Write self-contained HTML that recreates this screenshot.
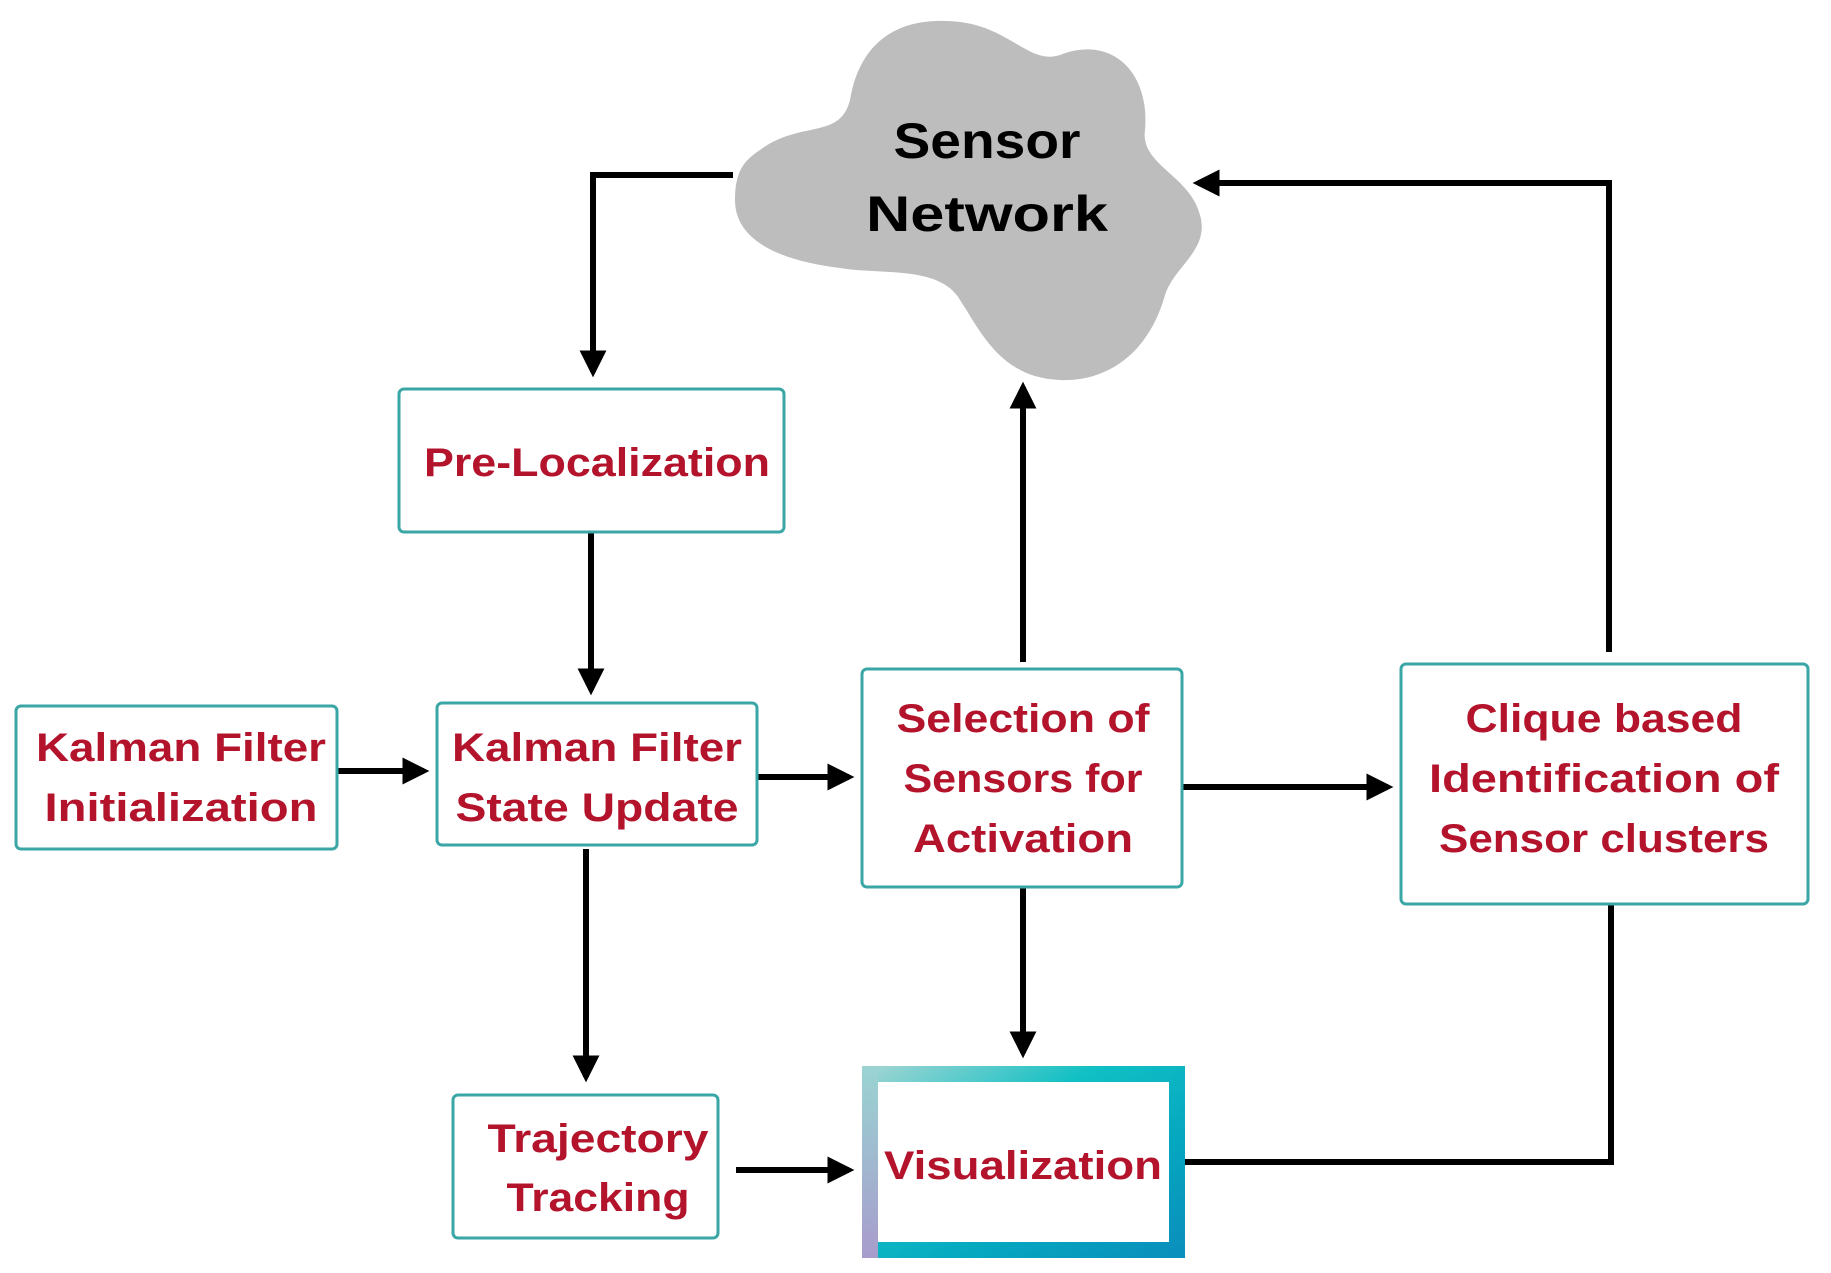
<!DOCTYPE html>
<html><head><meta charset="utf-8"><style>
html,body{margin:0;padding:0;background:#fff;}
svg{display:block;}
text{font-family:"Liberation Sans",sans-serif;font-weight:bold;}
.r{fill:#b3142c;font-size:40px;text-anchor:middle;}
.k{fill:#000;font-size:50px;text-anchor:middle;}
.b{fill:#fff;stroke:#3aa6a6;stroke-width:3;}
.l{stroke:#000;stroke-width:6;fill:none;}
</style></head><body>
<svg width="1831" height="1273" viewBox="0 0 1831 1273" xmlns="http://www.w3.org/2000/svg">
<defs>
<linearGradient id="g" x1="0" y1="0" x2="1" y2="1">
<stop offset="0" stop-color="#9ad4d2"/>
<stop offset="0.35" stop-color="#10c0c4"/>
<stop offset="0.7" stop-color="#05a6c0"/>
<stop offset="1" stop-color="#0a90bc"/>
</linearGradient>
<linearGradient id="g2" x1="0" y1="0" x2="0" y2="1">
<stop offset="0" stop-color="#9ad4d2"/>
<stop offset="1" stop-color="#a79ccc"/>
</linearGradient>
<marker id="a" markerWidth="4.5" markerHeight="4.5" refX="3.6" refY="2.25" orient="auto" markerUnits="strokeWidth">
<path d="M0,0 L4.5,2.25 L0,4.5 Z" fill="#000"/>
</marker>
</defs>

<!-- cloud -->
<path d="M760,150 C800,120 840,140 850,100 C860,40 900,15 960,22 C1010,28 1030,65 1060,55 C1110,35 1150,70 1145,130 C1140,165 1190,175 1200,215 C1210,250 1175,265 1165,295 C1150,350 1110,382 1060,380 C1000,378 980,330 960,300 C940,265 880,275 840,268 C790,262 735,245 735,200 C735,170 745,160 760,150 Z" fill="#bdbdbd"/>
<text class="k" x="987" y="158" textLength="187" lengthAdjust="spacingAndGlyphs">Sensor</text>
<text class="k" x="987" y="231" textLength="242" lengthAdjust="spacingAndGlyphs">Network</text>

<!-- connectors -->
<polyline class="l" points="733,175 593,175 593,372" marker-end="url(#a)"/>
<line class="l" x1="591" y1="532" x2="591" y2="690" marker-end="url(#a)"/>
<line class="l" x1="337" y1="771" x2="424" y2="771" marker-end="url(#a)"/>
<line class="l" x1="757" y1="777" x2="849" y2="777" marker-end="url(#a)"/>
<line class="l" x1="1182" y1="787" x2="1388" y2="787" marker-end="url(#a)"/>
<line class="l" x1="1023" y1="662" x2="1023" y2="387" marker-end="url(#a)"/>
<polyline class="l" points="1609,652 1609,183 1198,183" marker-end="url(#a)"/>
<line class="l" x1="1023" y1="887" x2="1023" y2="1053" marker-end="url(#a)"/>
<line class="l" x1="586" y1="849" x2="586" y2="1077" marker-end="url(#a)"/>
<line class="l" x1="736" y1="1170" x2="849" y2="1170" marker-end="url(#a)"/>
<polyline class="l" points="1185,1162 1611,1162 1611,899"/>

<!-- boxes -->
<rect class="b" x="399" y="389" width="385" height="143" rx="5"/>
<text class="r" x="597" y="476" textLength="346" lengthAdjust="spacingAndGlyphs">Pre-Localization</text>

<rect class="b" x="16" y="706" width="321" height="143" rx="5"/>
<text class="r" x="181" y="761" textLength="290" lengthAdjust="spacingAndGlyphs">Kalman Filter</text>
<text class="r" x="181" y="821" textLength="273" lengthAdjust="spacingAndGlyphs">Initialization</text>

<rect class="b" x="437" y="703" width="320" height="142" rx="5"/>
<text class="r" x="597" y="761" textLength="290" lengthAdjust="spacingAndGlyphs">Kalman Filter</text>
<text class="r" x="597" y="821" textLength="283" lengthAdjust="spacingAndGlyphs">State Update</text>

<rect class="b" x="862" y="669" width="320" height="218" rx="5"/>
<text class="r" x="1023" y="732" textLength="253" lengthAdjust="spacingAndGlyphs">Selection of</text>
<text class="r" x="1023" y="792" textLength="239" lengthAdjust="spacingAndGlyphs">Sensors for</text>
<text class="r" x="1023" y="852" textLength="220" lengthAdjust="spacingAndGlyphs">Activation</text>

<rect class="b" x="1401" y="664" width="407" height="240" rx="5"/>
<text class="r" x="1604" y="732" textLength="277" lengthAdjust="spacingAndGlyphs">Clique based</text>
<text class="r" x="1604" y="792" textLength="350" lengthAdjust="spacingAndGlyphs">Identification of</text>
<text class="r" x="1604" y="852" textLength="330" lengthAdjust="spacingAndGlyphs">Sensor clusters</text>

<rect class="b" x="453" y="1095" width="265" height="143" rx="5"/>
<text class="r" x="598" y="1152" textLength="221" lengthAdjust="spacingAndGlyphs">Trajectory</text>
<text class="r" x="598" y="1211" textLength="183" lengthAdjust="spacingAndGlyphs">Tracking</text>

<rect x="870" y="1074" width="307" height="176" fill="#fff" stroke="url(#g)" stroke-width="16"/>
<rect x="862" y="1066" width="16" height="192" fill="url(#g2)"/>
<text class="r" x="1023" y="1179" textLength="278" lengthAdjust="spacingAndGlyphs">Visualization</text>
</svg>
</body></html>
